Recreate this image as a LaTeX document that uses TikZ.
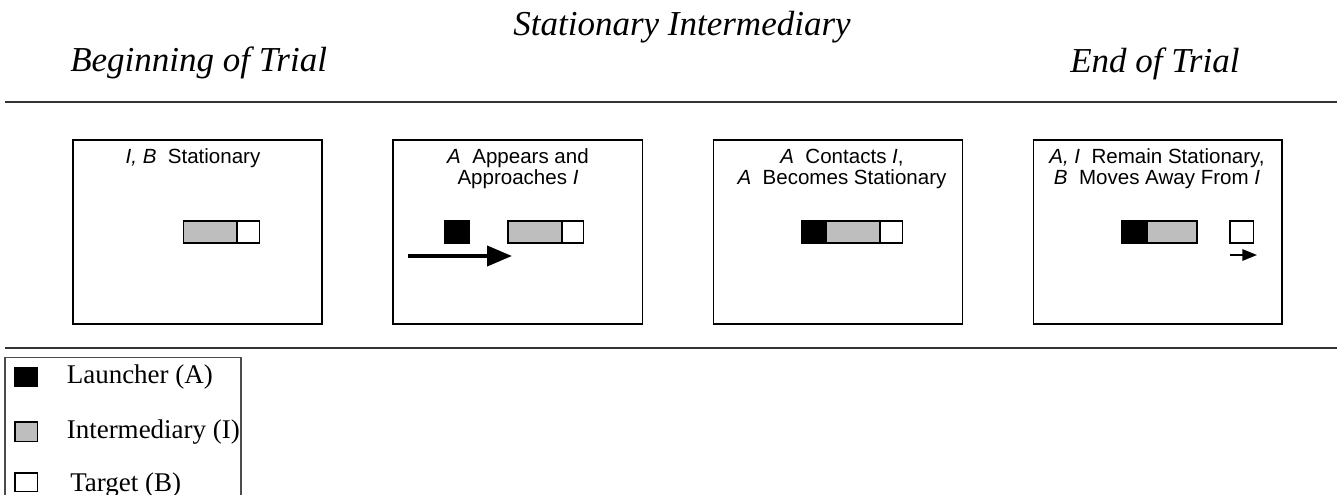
\documentclass[tikz,border=0pt]{standalone}
\usepackage{fontspec}
\setmainfont{Liberation Serif}
\newfontfamily\arialf{Liberation Sans}
\usetikzlibrary{arrows.meta}
\definecolor{igray}{RGB}{190,190,190}
\begin{document}
\begin{tikzpicture}[x=0.75pt,y=-0.75pt,
  title/.style={inner sep=0pt,font=\fontsize{26.25}{30}\selectfont\itshape},
  panel/.style={draw=black,line width=1.2pt},
  captxt/.style={inner sep=0pt,anchor=base,font=\arialf\fontsize{15.4}{18}\selectfont},
  blk/.style={draw=black,line width=1pt,fill=black},
  gry/.style={draw=black,line width=1pt,fill=igray},
  wht/.style={draw=black,line width=1pt,fill=white},
  rule/.style={draw=black!80,line width=1.6pt},
  legtext/.style={inner sep=0pt,anchor=base west,font=\fontsize{20.25}{24}\selectfont},
  bigarrow/.style={line width=3pt,-{Triangle[length=18.75pt,width=15pt]}},
  smallarrow/.style={line width=1.5pt,-{Triangle[length=11pt,width=8.5pt]}}
]
\useasboundingbox (0,0) rectangle (1337,495);
% titles
\node[title,anchor=base] (tmid) at (682,36) {Stationary Intermediary};
\node[title,anchor=base west] (tbeg) at (70,72) {Beginning of Trial};
\node[title,anchor=base west] (tend) at (1070,73) {End of Trial};
% rules
\draw[rule] (5,102) -- (1337,102);
\draw[rule] (5,348) -- (1337,348);
% panels
\draw[panel] (73,140) rectangle (322,324);
\draw[panel] (393,140) rectangle (642.5,324);
\draw[panel] (713.5,140) rectangle (962.5,324);
\draw[panel] (1033.5,140) rectangle (1282,324);
% panel 1
\node[captxt] (c1) at (193,164) {\textit{I, B}\ \ Stationary};
\draw[gry] (183.5,221) rectangle (237,243);
\draw[wht] (237,221) rectangle (259.5,243);
% panel 2
\node[captxt] (c2a) at (518,164) {\textit{A}\ \ Appears and};
\node[captxt] (c2b) at (518,185) {Approaches \textit{I}};
\draw[blk] (445,221) rectangle (469,243);
\draw[gry] (508,221) rectangle (562,243);
\draw[wht] (562,221) rectangle (583.5,243);
\coordinate (a2s) at (408,256);
\coordinate (a2e) at (512,256);
\draw[bigarrow] (a2s) -- (a2e);
% panel 3
\node[captxt] (c3a) at (842,164) {\textit{A}\ \ Contacts \textit{I},};
\node[captxt] (c3b) at (842,185) {\textit{A}\ \ Becomes Stationary};
\draw[blk] (802,221) rectangle (826,243);
\draw[gry] (826,221) rectangle (880,243);
\draw[wht] (880,221) rectangle (902.5,243);
% panel 4
\node[captxt] (c4a) at (1157,164) {\textit{A, I}\ \ Remain Stationary,};
\node[captxt] (c4b) at (1157,185) {\textit{B}\ \ Moves Away From \textit{I}};
\draw[blk] (1122,221) rectangle (1147,243);
\draw[gry] (1147,221) rectangle (1197,243);
\draw[wht] (1230,221) rectangle (1253.5,243);
\coordinate (a4s) at (1230,255);
\coordinate (a4e) at (1257,255);
\draw[smallarrow] (a4s) -- (a4e);
% legend
\draw[draw=black!70,line width=0.8pt] (5,495) -- (5,357.5) -- (241,357.5) -- (241,495);
\draw[blk] (15,368) rectangle (37.5,386.5);
\draw[gry] (15,422) rectangle (37.5,441.5);
\draw[wht] (15,473) rectangle (37.5,491.5);
\node[legtext] (l1) at (66.5,383.5) {Launcher (A)};
\node[legtext] (l2) at (66.5,438.5) {Intermediary (I)};
\node[legtext] (l3) at (70,491.5) {Target (B)};
\end{tikzpicture}
\end{document}
